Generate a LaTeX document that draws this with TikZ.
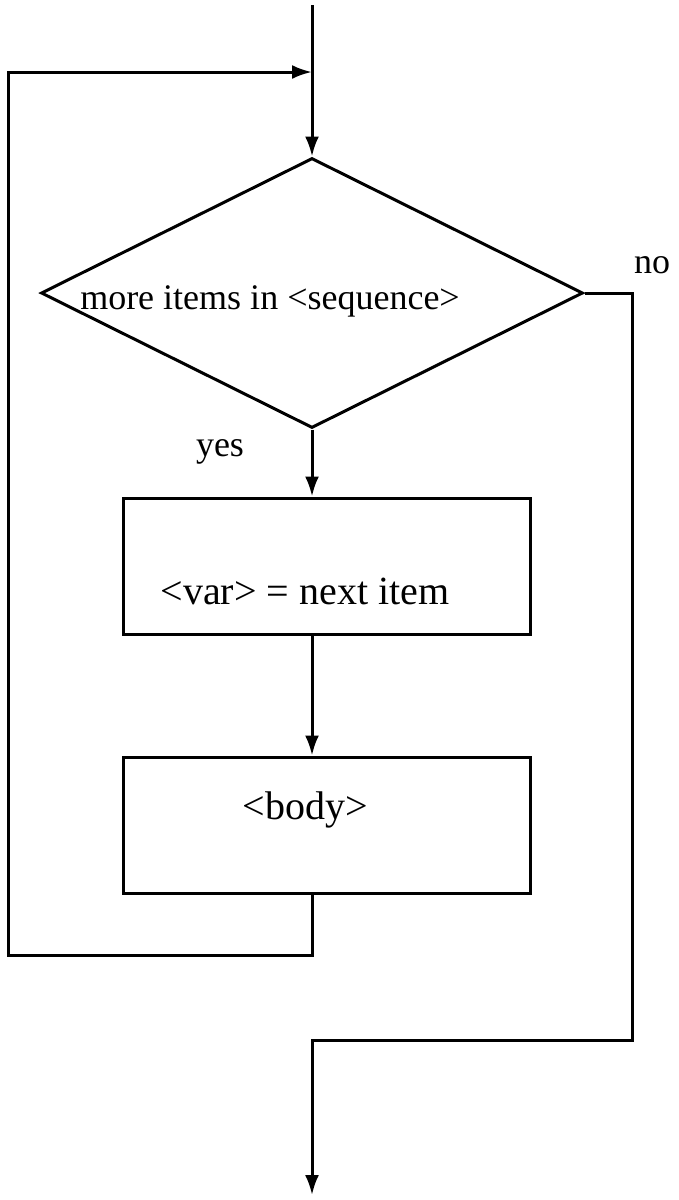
\documentclass[tikz,border=0pt]{standalone}
\usepackage{fontspec}
\setmainfont{Liberation Serif}
\usetikzlibrary{arrows.meta,positioning,shapes.geometric}
\tikzset{
  box/.style={draw, line width=1.5pt, minimum width=203.5pt, minimum height=68pt, inner sep=0pt},
  test/.style={draw, diamond, aspect=2, line width=1.5pt, minimum width=271pt, minimum height=135pt, inner sep=0pt},
  flow/.style={-{Latex[length=10pt,width=7pt]}, line width=1.5pt},
  lbl/.style={font=\fontsize{18}{21}\selectfont, inner sep=0pt},
  blbl/.style={lbl, font=\fontsize{20}{23}\selectfont},
}
\begin{document}
\begin{tikzpicture}[x=0.5pt, y=-0.5pt]
\useasboundingbox (0,0) rectangle (679,1200);
\coordinate (in) at (312,5);
\node[test] (d) at (312,293) {};
\node[lbl] (dtxt) at ([xshift=-21pt,yshift=-4pt]d.center) {more items in <sequence>};
\node[box, below=33.5pt of d, xshift=7.25pt] (var) {};
\node[blbl] (vartxt) at ([xshift=-10.75pt,yshift=-12.5pt]var.center) {<var> = next item};
\node[box, below=60pt of var] (body) {};
\node[blbl] (bodytxt) at ([xshift=-10.75pt,yshift=7.5pt]body.center) {<body>};
\node[lbl] (yes) at (220,452) {yes};
\node[lbl] (no) at (652,265) {no};
% loop back and exit corners
\coordinate (lb) at (8,955);
\coordinate (lt) at (8,72);
\coordinate (nr) at (632,293);
\coordinate (ne) at (632,1040);
\coordinate (out) at (312,1195);
\draw[flow] (in) -- (d.north);
\draw[flow] (d.south) -- (d.south |- var.north);
\draw[flow] (d.south |- var.south) -- (d.south |- body.north);
\draw[flow] (d.south |- body.south) |- (lb) -- (lt) -- (lt -| d.north);
\draw[flow] (d.east) -- (nr) -- (ne) -| (out);
\end{tikzpicture}
\end{document}
